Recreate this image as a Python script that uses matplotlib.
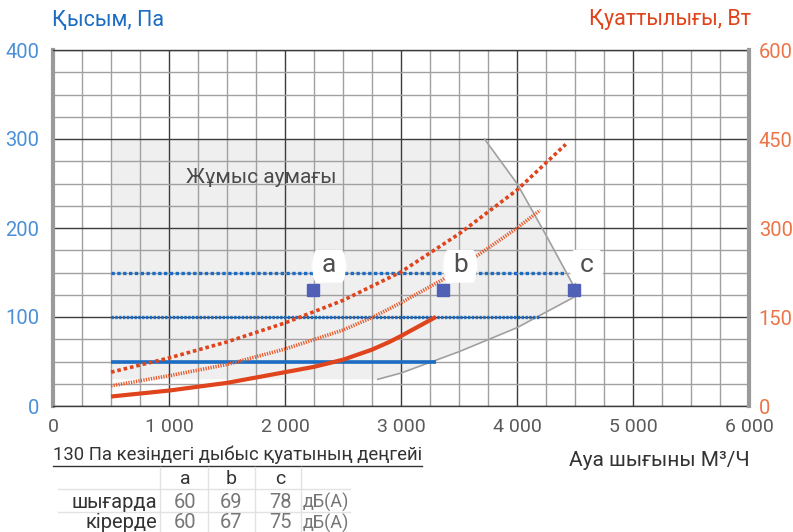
import matplotlib
matplotlib.use("Agg")
import matplotlib.pyplot as plt
from matplotlib.lines import Line2D
from matplotlib.patches import FancyBboxPatch
from matplotlib.ticker import MultipleLocator

plt.rcParams['font.family'] = ['Roboto', 'DejaVu Sans']
NARROW = ['Liberation Sans Narrow', 'Roboto', 'DejaVu Sans']

W, H = 793, 532

# axis ticks
x_ticks = [0, 1000, 2000, 3000, 4000, 5000, 6000]
x_tick_labels = ['0', '1 000', '2 000', '3 000', '4 000', '5 000', '6 000']
p_ticks = [0, 100, 200, 300, 400]
w_ticks = [0, 150, 300, 450, 600]

# pressure lines, Pa (start at 500 m3/h)
press_levels = [50, 100, 150]
press_x_from = 500
press_x_to = [3300, 4200, 4420]

# fan power curves, W
pw_solid_x = [500, 1000, 1500, 2000, 2250, 2500, 2750, 2900, 3000, 3150, 3300]
pw_solid = [16, 26, 39, 57, 66, 78, 95, 108, 118, 134, 150]
pw_dash_x = [500, 1000, 1500, 2000, 2500, 3000, 3500, 4000, 4420]
pw_dash = [57, 81, 108, 140, 178, 226, 290, 364, 441]
pw_dot_x = [500, 1000, 1500, 2000, 2500, 2760, 3000, 3350, 3500, 4000, 4200]
pw_dot = [34, 51, 70, 96, 128, 150, 174, 212, 232, 300, 330]

# working zone
zone_x = [500, 500, 508, 525, 3720, 4000, 4250, 4530, 4200, 4000, 3500, 3000, 2800]
zone_y = [30, 292, 298, 300, 300, 250, 192, 125, 102, 88, 61, 37, 30]
edge_x = [3720, 4000, 4250, 4530, 4200, 4000, 3500, 3000, 2800]
edge_y = [300, 250, 192, 125, 102, 88, 61, 37, 30]

# operating points at 130 Pa
pt_names = ['a', 'b', 'c']
pt_flow = [2240, 3360, 4490]
pt_press = [130, 130, 130]
lbl_flow = [2380, 3510, 4600]
lbl_press = [157, 157, 157]

# sound power table
snd_title = '130 Па кезіндегі дыбыс қуатының деңгейі'
snd_rows = ['шығарда', 'кірерде']
snd_out = [60, 69, 78]
snd_in = [60, 67, 75]
snd_unit = 'дБ(А)'

BLUE = '#1b6cc2'
RED = '#e0441c'
BLUE_TXT = '#4a90d8'
RED_TXT = '#ec7446'


def fx(px):
    return px / W


def fy(py):
    return 1 - py / H


fig = plt.figure(figsize=(W / 100, H / 100), dpi=100)
ax = fig.add_axes([fx(53), fy(406), 696 / W, 356 / H])
ax2 = ax.twinx()

ax.set_xlim(0, 6000)
ax.set_ylim(0, 400)
ax2.set_ylim(0, 600)

ax.set_xticks(x_ticks)
ax.set_xticklabels(x_tick_labels)
ax.xaxis.set_minor_locator(MultipleLocator(250))
ax.set_yticks(p_ticks)
ax.yaxis.set_minor_locator(MultipleLocator(25))
ax2.set_yticks(w_ticks)

ax.set_axisbelow(True)
ax.grid(which='major', color='#3c3c3c', lw=1.0)
ax.grid(which='minor', color='#a0a0a0', lw=1.0)

ax.tick_params(which='both', length=0)
ax.tick_params(axis='x', pad=9, labelsize=14, labelcolor='#5a5a5a')
ax.tick_params(axis='y', pad=10, labelsize=14.5, labelcolor=BLUE_TXT)
ax2.tick_params(which='both', length=0)
ax2.tick_params(axis='y', pad=7, labelsize=14.5, labelcolor=RED_TXT)

for s in ['top', 'bottom']:
    ax.spines[s].set_color('#3c3c3c')
    ax.spines[s].set_linewidth(1.0)
    ax2.spines[s].set_visible(False)
ax.spines['left'].set_color('#9a9a9a')
ax.spines['left'].set_linewidth(3)
ax.spines['right'].set_visible(False)
ax2.spines['left'].set_visible(False)
ax2.spines['right'].set_color('#9a9a9a')
ax2.spines['right'].set_linewidth(3)

# working zone
ax.fill(zone_x, zone_y, color='#efefef', lw=0, zorder=0.2)
ax.plot(edge_x, edge_y, color='#a0a0a0', lw=1.2, zorder=1)
ax.text(1150, 257, 'Жұмыс аумағы', fontsize=15, color='#4a4a4a', va='center', zorder=2)

# pressure lines
ax.plot([press_x_from, press_x_to[0]], [press_levels[0]] * 2, color=BLUE, lw=2.6, zorder=3,
        solid_capstyle='butt')
ax.plot([press_x_from, press_x_to[1]], [press_levels[1]] * 2, color=BLUE, lw=2.4, zorder=3,
        dashes=(0.7, 0.45))
ax.plot([press_x_from, press_x_to[2]], [press_levels[2]] * 2, color=BLUE, lw=2.4, zorder=3,
        dashes=(1.0, 0.75))

# power curves on the right scale
ax.plot(pw_solid_x, pw_solid, color=RED, lw=3, zorder=3, transform=ax2.transData,
        solid_capstyle='butt', solid_joinstyle='round')
ax.plot(pw_dash_x, pw_dash, color=RED, lw=2.6, zorder=3, dashes=(1.0, 0.8),
        transform=ax2.transData)
ax.plot(pw_dot_x, pw_dot, color='#e85a2c', lw=2.6, zorder=3, dashes=(0.35, 0.35),
        transform=ax2.transData)

# operating points and their labels (white rounded boxes)
box_w, box_h = 300, 37
for name, x, y, lx, ly in zip(pt_names, pt_flow, pt_press, lbl_flow, lbl_press):
    ax.add_patch(FancyBboxPatch((lx - box_w / 2, ly - box_h / 2), box_w, box_h,
                                boxstyle='round,pad=0,rounding_size=45',
                                mutation_aspect=0.77, fc='white', ec='none', zorder=5))
    ax.text(lx, ly + 1, name, fontsize=19, color='#505050', ha='center', va='center',
            zorder=5.5)
ax.plot(pt_flow, pt_press, ls='none', marker='s', ms=8.5, color='#4f60b6', zorder=6)

# titles
fig.text(fx(52), fy(20), 'Қысым, Па', color=BLUE, fontsize=15.5, va='center')
fig.text(fx(751), fy(20), 'Қуаттылығы, Вт', color=RED, fontsize=15.5, va='center', ha='right')
fig.text(fx(750), fy(461), 'Ауа шығыны М³/Ч', color='#333333', fontsize=15, va='center',
         ha='right')

# sound power table
t = fig.text(fx(53), fy(455), snd_title, color='#333333', fontsize=13.3, va='center')
fig.canvas.draw()
bb = t.get_window_extent()
fig.add_artist(Line2D([bb.x0 / W, bb.x1 / W], [fy(466)] * 2, color='#333333', lw=1))

col_x = [185, 231, 280]
row_y = [502, 523]
for xl in [160, 208, 255, 301]:
    fig.add_artist(Line2D([fx(xl)] * 2, [fy(467), fy(532)], color='#e2e2e2', lw=1))
for yl in [489, 512]:
    fig.add_artist(Line2D([fx(58), fx(350)], [fy(yl)] * 2, color='#e2e2e2', lw=1))

for name, cx in zip(pt_names, col_x):
    fig.text(fx(cx), fy(479), name, color='#333333', fontsize=14, ha='center', va='center',
             family=NARROW)
for label, vals, ry in zip(snd_rows, [snd_out, snd_in], row_y):
    fig.text(fx(157), fy(ry), label, color='#333333', fontsize=14.5, ha='right', va='center')
    for v, cx in zip(vals, col_x):
        fig.text(fx(cx), fy(ry), str(v), color='#777777', fontsize=14.5, ha='center',
                 va='center', family=NARROW)
    fig.text(fx(303), fy(ry), snd_unit, color='#777777', fontsize=13, va='center',
             family=NARROW)

fig.savefig('out.png', dpi=100, facecolor='white')
